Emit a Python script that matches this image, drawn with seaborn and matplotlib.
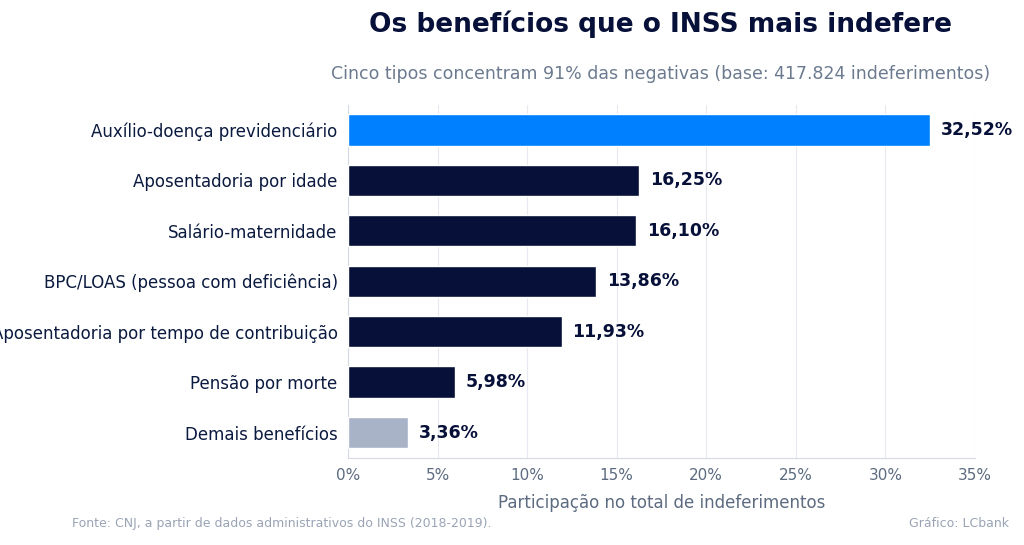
import matplotlib
matplotlib.use("Agg")
import matplotlib.pyplot as plt
import seaborn as sns
import pandas as pd

# dados
beneficios = ["Auxílio-doença previdenciário", "Aposentadoria por idade", "Salário-maternidade",
              "BPC/LOAS (pessoa com deficiência)", "Aposentadoria por tempo de contribuição",
              "Pensão por morte", "Demais benefícios"]
percentuais = [32.52, 16.25, 16.10, 13.86, 11.93, 5.98, 3.36]
cores = ["#0080FF", "#061038", "#061038", "#061038", "#061038", "#061038", "#A9B3C8"]
marcas_x = [0, 5, 10, 15, 20, 25, 30, 35]

df = pd.DataFrame({"beneficio": beneficios, "pct": percentuais})

sns.set_style("white")
plt.rcParams['font.family'] = ['DejaVu Sans']

fig = plt.figure(figsize=(10.24, 5.45), dpi=100)
ax = fig.add_axes([0.34, 0.16, 0.612, 0.648])
sns.barplot(data=df, x="pct", y="beneficio", hue="beneficio", palette=cores, saturation=1,
            legend=False, width=0.62, ax=ax, zorder=3)

for i, v in enumerate(percentuais):
    ax.text(v + 0.6, i, f"{v:.2f}%".replace(".", ","), va="center", ha="left",
            fontsize=12.5, fontweight="bold", color="#061038")

ax.set_xlim(0, 35)
ax.set_xticks(marcas_x)
ax.set_xticklabels([f"{t}%" for t in marcas_x], color="#5C6B80", fontsize=11)
ax.tick_params(axis="y", labelsize=12, labelcolor="#0B1A3F", length=4, color="#C8CED8")
ax.tick_params(axis="x", length=4, color="#C8CED8")
ax.grid(axis="x", color="#E6E9EF", linewidth=0.8, zorder=0)
for s in ["top", "right"]:
    ax.spines[s].set_visible(False)
for s in ["left", "bottom"]:
    ax.spines[s].set_color("#D5DAE2")
ax.set_ylabel("")
ax.set_xlabel("Participação no total de indeferimentos", fontsize=12, color="#5C6B80", labelpad=8)

fig.text(0.645, 0.955, "Os benefícios que o INSS mais indefere", ha="center", va="center",
         fontsize=19, fontweight="bold", color="#061038")
fig.text(0.645, 0.865, "Cinco tipos concentram 91% das negativas (base: 417.824 indeferimentos)",
         ha="center", va="center", fontsize=12.5, color="#6B7A8F")
fig.text(0.07, 0.04, "Fonte: CNJ, a partir de dados administrativos do INSS (2018-2019).",
         ha="left", va="center", fontsize=9, color="#9AA4B5")
fig.text(0.985, 0.04, "Gráfico: LCbank", ha="right", va="center", fontsize=9, color="#9AA4B5")

fig.savefig("out.png", dpi=100)
